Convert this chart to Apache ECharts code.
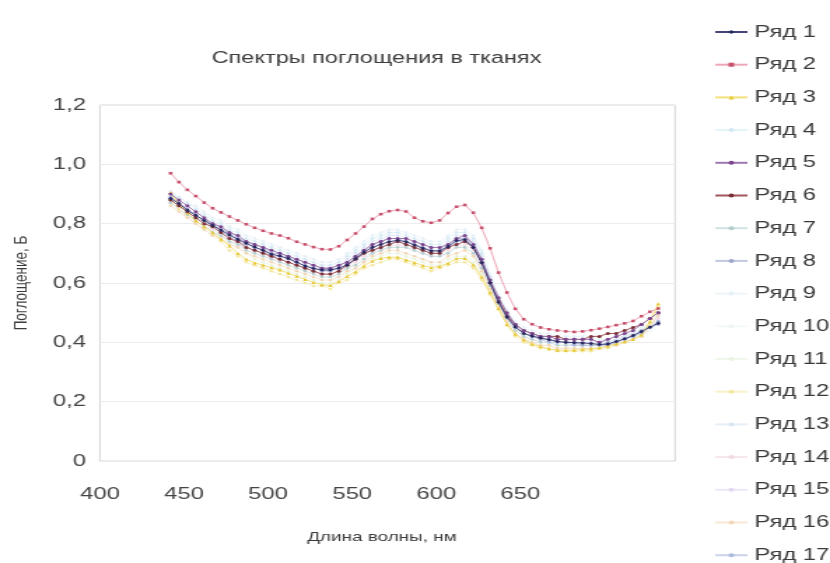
<!DOCTYPE html>
<html>
<head>
<meta charset="utf-8">
<script src="https://cdn.jsdelivr.net/npm/echarts@6/dist/echarts.min.js"></script>
<style>
  html, body { margin: 0; padding: 0; background: #ffffff; }
  #wrap { width: 830px; height: 563px; overflow: hidden; position: relative; }
  /* the chart is laid out narrow and widened horizontally */
  #chart { width: 593px; height: 563px; transform: scaleX(1.3997); transform-origin: 0 0; }
</style>
</head>
<body>
<div id="wrap"><div id="chart"></div></div>
<script>
// Wavelength positions of the measured points (nm)
const wavelengths = [
  442, 447, 452, 457, 462, 467, 472, 477, 482, 487,
  492, 497, 502, 507, 512, 517, 522, 527, 532, 537,
  542, 547, 552, 557, 562, 567, 572, 577, 582, 587,
  592, 597, 602, 607, 612, 617, 622, 627, 632, 637,
  642, 647, 652, 657, 662, 667, 672, 677, 682, 687,
  692, 697, 702, 707, 712, 717, 722, 727, 732
];

const xTicks = [400, 450, 500, 550, 600, 650];
const yTicks = [0, 0.2, 0.4, 0.6, 0.8, 1.0, 1.2];

const seriesNames = ['Ряд 1','Ряд 2','Ряд 3','Ряд 4','Ряд 5','Ряд 6','Ряд 7','Ряд 8','Ряд 9',
  'Ряд 10','Ряд 11','Ряд 12','Ряд 13','Ряд 14','Ряд 15','Ряд 16','Ряд 17'];

// Absorbance of each sample
const row1 = [
  0.885,0.868,0.845,0.828,0.811,0.794,0.778,0.762,0.747,0.734,
  0.721,0.710,0.697,0.691,0.683,0.670,0.657,0.649,0.644,0.644,
  0.650,0.661,0.682,0.704,0.720,0.730,0.739,0.744,0.739,0.728,
  0.717,0.708,0.708,0.723,0.743,0.746,0.720,0.668,0.601,0.535,
  0.485,0.452,0.430,0.421,0.415,0.409,0.403,0.400,0.399,0.398,
  0.396,0.393,0.394,0.403,0.412,0.423,0.436,0.451,0.464
];
const row2 = [
  0.970,0.940,0.914,0.893,0.871,0.852,0.838,0.824,0.811,0.798,
  0.786,0.776,0.767,0.760,0.751,0.739,0.730,0.721,0.714,0.713,
  0.724,0.745,0.767,0.790,0.816,0.832,0.842,0.846,0.841,0.820,
  0.808,0.803,0.811,0.836,0.857,0.863,0.837,0.786,0.717,0.635,
  0.568,0.513,0.478,0.461,0.450,0.444,0.440,0.437,0.435,0.437,
  0.441,0.446,0.452,0.458,0.464,0.472,0.488,0.503,0.514
];
const row3 = [
  0.905,0.866,0.836,0.810,0.790,0.770,0.748,0.725,0.700,0.680,
  0.668,0.660,0.652,0.644,0.633,0.623,0.612,0.602,0.594,0.592,
  0.605,0.622,0.638,0.658,0.674,0.683,0.687,0.687,0.678,0.669,
  0.659,0.652,0.656,0.667,0.682,0.683,0.661,0.620,0.568,0.514,
  0.460,0.428,0.408,0.394,0.386,0.378,0.374,0.373,0.374,0.376,
  0.378,0.381,0.387,0.395,0.402,0.410,0.425,0.470,0.530
];
const row4 = [
  .90,.89,.87,.85,.83,.81,.80,.78,.77,.75,
  .74,.73,.72,.71,.70,.69,.68,.67,.66,.66,
  .67,.69,.71,.73,.75,.76,.77,.77,.76,.75,
  .74,.73,.73,.75,.77,.77,.75,.70,.62,.55,
  .50,.46,.44,.43,.42,.42,.41,.41,.41,.41,
  .41,.40,.40,.41,.42,.43,.44,.46,.47
];
const row5 = [
  .90,.88,.86,.84,.82,.80,.79,.77,.76,.74,
  .73,.72,.71,.70,.69,.68,.67,.66,.65,.65,
  .66,.67,.69,.71,.73,.74,.75,.75,.75,.74,
  .73,.72,.72,.73,.75,.76,.73,.68,.61,.55,
  .50,.46,.44,.43,.42,.42,.41,.41,.41,.41,
  .41,.40,.41,.42,.43,.44,.46,.48,.50
];
const row6 = [
  .88,.86,.84,.82,.80,.79,.77,.75,.74,.72,
  .71,.70,.69,.68,.67,.66,.65,.64,.63,.63,
  .64,.66,.68,.70,.71,.72,.73,.74,.73,.72,
  .71,.70,.70,.72,.73,.74,.72,.67,.60,.54,
  .49,.46,.44,.43,.42,.42,.42,.41,.41,.41,
  .42,.42,.43,.43,.44,.45,.46,.48,.50
];
const row7 = [
  .87,.85,.83,.81,.79,.77,.76,.74,.73,.71,
  .70,.69,.68,.67,.66,.65,.64,.63,.62,.62,
  .63,.65,.66,.68,.70,.71,.72,.72,.72,.71,
  .70,.69,.69,.70,.72,.72,.70,.65,.59,.53,
  .48,.44,.42,.41,.40,.40,.39,.39,.39,.39,
  .39,.39,.39,.40,.41,.42,.43,.45,.47
];
const row8 = [
  .89,.87,.85,.83,.81,.80,.78,.77,.75,.74,
  .73,.72,.70,.70,.69,.68,.67,.66,.65,.65,
  .66,.67,.69,.71,.73,.74,.75,.75,.74,.73,
  .72,.71,.71,.73,.75,.75,.73,.68,.61,.54,
  .49,.45,.43,.42,.41,.41,.40,.40,.40,.39,
  .39,.39,.40,.40,.41,.42,.44,.45,.47
];
const row9 = [
  .91,.89,.87,.86,.84,.82,.81,.79,.78,.76,
  .75,.74,.73,.72,.71,.70,.69,.68,.67,.67,
  .68,.70,.72,.74,.76,.77,.78,.78,.77,.76,
  .75,.74,.74,.76,.78,.78,.76,.71,.63,.56,
  .51,.47,.45,.44,.43,.43,.42,.42,.42,.42,
  .42,.41,.41,.42,.43,.43,.45,.46,.48
];
const row10 = [
  .88,.86,.84,.82,.80,.78,.77,.75,.74,.72,
  .71,.70,.69,.68,.67,.66,.65,.64,.63,.63,
  .64,.65,.67,.69,.71,.72,.73,.73,.73,.72,
  .71,.70,.70,.71,.73,.73,.71,.66,.59,.53,
  .48,.45,.43,.42,.41,.40,.40,.39,.39,.39,
  .39,.39,.39,.40,.40,.41,.43,.44,.46
];
const row11 = [
  .90,.87,.84,.82,.80,.78,.76,.74,.72,.70,
  .68,.67,.66,.65,.64,.63,.62,.61,.60,.60,
  .61,.63,.65,.67,.68,.69,.70,.70,.69,.68,
  .67,.66,.66,.68,.69,.69,.67,.63,.58,.52,
  .47,.44,.42,.40,.39,.39,.38,.38,.38,.38,
  .38,.39,.39,.40,.41,.42,.43,.46,.50
];
const row12 = [
  .88,.85,.82,.80,.78,.76,.74,.71,.69,.67,
  .66,.65,.64,.63,.62,.61,.60,.59,.59,.58,
  .60,.61,.63,.65,.66,.67,.68,.68,.67,.66,
  .65,.64,.65,.66,.67,.67,.65,.61,.56,.51,
  .46,.42,.40,.39,.38,.38,.37,.37,.37,.37,
  .37,.38,.38,.39,.40,.41,.42,.46,.52
];
const row13 = [
  .90,.88,.86,.84,.82,.80,.79,.77,.76,.74,
  .73,.72,.71,.70,.69,.68,.67,.66,.65,.65,
  .66,.68,.70,.72,.74,.75,.76,.76,.75,.74,
  .73,.72,.72,.74,.76,.76,.74,.69,.62,.55,
  .50,.46,.44,.43,.42,.41,.41,.41,.40,.40,
  .40,.40,.40,.41,.42,.43,.44,.46,.47
];
const row14 = [
  .87,.85,.83,.81,.79,.78,.76,.75,.73,.72,
  .71,.70,.68,.68,.67,.66,.65,.64,.63,.63,
  .64,.65,.67,.69,.70,.71,.72,.73,.72,.71,
  .70,.69,.69,.71,.72,.73,.71,.66,.59,.53,
  .48,.45,.43,.42,.41,.41,.40,.40,.40,.40,
  .40,.40,.41,.42,.42,.43,.44,.46,.48
];
const row15 = [
  .89,.87,.85,.83,.81,.79,.78,.76,.75,.73,
  .72,.71,.70,.69,.68,.67,.66,.65,.64,.64,
  .65,.66,.68,.70,.72,.73,.74,.74,.74,.73,
  .72,.71,.71,.72,.74,.75,.72,.67,.60,.54,
  .49,.45,.43,.42,.41,.41,.40,.40,.40,.40,
  .40,.40,.40,.41,.42,.43,.44,.46,.49
];
const row16 = [
  .86,.84,.82,.80,.78,.76,.75,.73,.72,.70,
  .69,.68,.67,.66,.65,.64,.63,.62,.61,.61,
  .62,.64,.65,.67,.69,.70,.71,.71,.70,.69,
  .68,.67,.67,.69,.70,.71,.69,.64,.58,.52,
  .47,.43,.41,.40,.39,.39,.38,.38,.38,.38,
  .38,.38,.39,.39,.40,.41,.42,.45,.49
];
const row17 = [
  .88,.86,.84,.82,.81,.79,.77,.76,.74,.73,
  .72,.71,.69,.69,.68,.67,.66,.65,.64,.64,
  .65,.66,.68,.70,.71,.72,.73,.74,.73,.72,
  .71,.70,.70,.72,.74,.74,.72,.67,.60,.54,
  .49,.45,.43,.42,.41,.40,.40,.40,.39,.39,
  .39,.39,.39,.40,.41,.42,.43,.45,.46
];

const rows = [row1,row2,row3,row4,row5,row6,row7,row8,row9,row10,row11,row12,row13,row14,row15,row16,row17];

// marker colour, line colour, symbol, size, z
const looks = [
  ['#26265e', '#45457c', 'diamond', 3.6, 9],
  ['#c8506c', '#eca8b8', 'rect', 2.6, 6],
  ['#e6c838', '#f2e07a', 'triangle', 3.2, 5],
  ['#d2e8f2', '#e4f2f8', 'circle', 2.6, 2],
  ['#7c4490', '#a078b0', 'circle', 3, 8],
  ['#7a2e36', '#a0585e', 'circle', 3, 7],
  ['#b4cccc', '#d0e2e2', 'circle', 2.6, 2],
  ['#9ea8cc', '#c0c8e2', 'circle', 2.6, 3],
  ['#e4f1f8', '#eef6fa', 'circle', 2.6, 1],
  ['#eef6f6', '#f4fafa', 'circle', 2.6, 1],
  ['#e8f4e0', '#f0f8ec', 'circle', 2.6, 1],
  ['#f4e8a0', '#f9f2c8', 'circle', 2.6, 2],
  ['#d8e4f4', '#e6eef8', 'circle', 2.6, 1],
  ['#f2d8e4', '#f8e6ee', 'circle', 2.6, 1],
  ['#e2d8f0', '#ece6f6', 'circle', 2.6, 1],
  ['#f2d6b6', '#f8e6d2', 'circle', 2.6, 2],
  ['#acb8e0', '#cad2ec', 'circle', 2.6, 2]
];

const series = seriesNames.map((name, i) => ({
  name: name,
  type: 'line',
  data: wavelengths.map((w, j) => [w, rows[i][j]]),
  symbol: looks[i][2],
  symbolSize: looks[i][3],
  showSymbol: true,
  z: looks[i][4],
  itemStyle: { color: looks[i][0] },
  lineStyle: { color: looks[i][1], width: 1 },
  emphasis: { disabled: true },
  animation: false
}));

const fmtY = v => (v === 0 ? '0' : v.toFixed(1).replace('.', ','));
const FONT = 'Liberation Sans, Arial, sans-serif';

const chart = echarts.init(document.getElementById('chart'), null, { renderer: 'canvas' });
chart.setOption({
  backgroundColor: '#ffffff',
  animation: false,
  graphic: [{
    type: 'text',
    x: 269,
    y: 58,
    style: {
      text: 'Спектры поглощения в тканях',
      align: 'center',
      verticalAlign: 'middle',
      fontFamily: FONT,
      fontSize: 16.8,
      fill: '#3c3c3c'
    }
  }],
  grid: {
    left: 71.4, right: 110.7, top: 105, bottom: 102,
    show: true, borderColor: '#d6d6d6', borderWidth: 1,
    containLabel: false
  },
  legend: {
    orient: 'vertical',
    left: 510,
    top: 23.5,
    height: 560,
    padding: 0,
    itemWidth: 23,
    itemHeight: 5,
    itemGap: 15.7,
    textStyle: {
      fontFamily: FONT,
      fontSize: 17,
      lineHeight: 17,
      color: '#3a3a3a'
    },
    data: seriesNames
  },
  xAxis: {
    type: 'value',
    min: 400,
    max: 742,
    interval: 50,
    name: 'Длина волны, нм',
    nameLocation: 'middle',
    nameGap: 69,
    nameTextStyle: {
      fontFamily: FONT,
      fontSize: 13.5,
      color: '#3c3c3c',
      padding: [0, 8, 0, 0]
    },
    axisLine: { show: false },
    axisTick: { show: false },
    splitLine: { show: false },
    axisLabel: {
      margin: 25,
      fontFamily: FONT,
      fontSize: 17,
      color: '#444444',
      showMaxLabel: false,
      formatter: v => (xTicks.indexOf(v) >= 0 ? String(v) : '')
    }
  },
  yAxis: {
    type: 'value',
    min: 0,
    max: 1.2,
    interval: 0.2,
    name: 'Поглощение, Б',
    nameLocation: 'middle',
    nameGap: 49,
    nameTextStyle: {
      fontFamily: FONT,
      fontSize: 13.5,
      color: '#3c3c3c'
    },
    axisLine: { show: false },
    axisTick: { show: false },
    splitLine: { show: true, lineStyle: { color: '#ececec', width: 1 } },
    axisLabel: {
      margin: 10,
      fontFamily: FONT,
      fontSize: 17,
      color: '#444444',
      formatter: v => (yTicks.some(t => Math.abs(t - v) < 1e-9) ? fmtY(v) : '')
    }
  },
  series: series
});
</script>
</body>
</html>
